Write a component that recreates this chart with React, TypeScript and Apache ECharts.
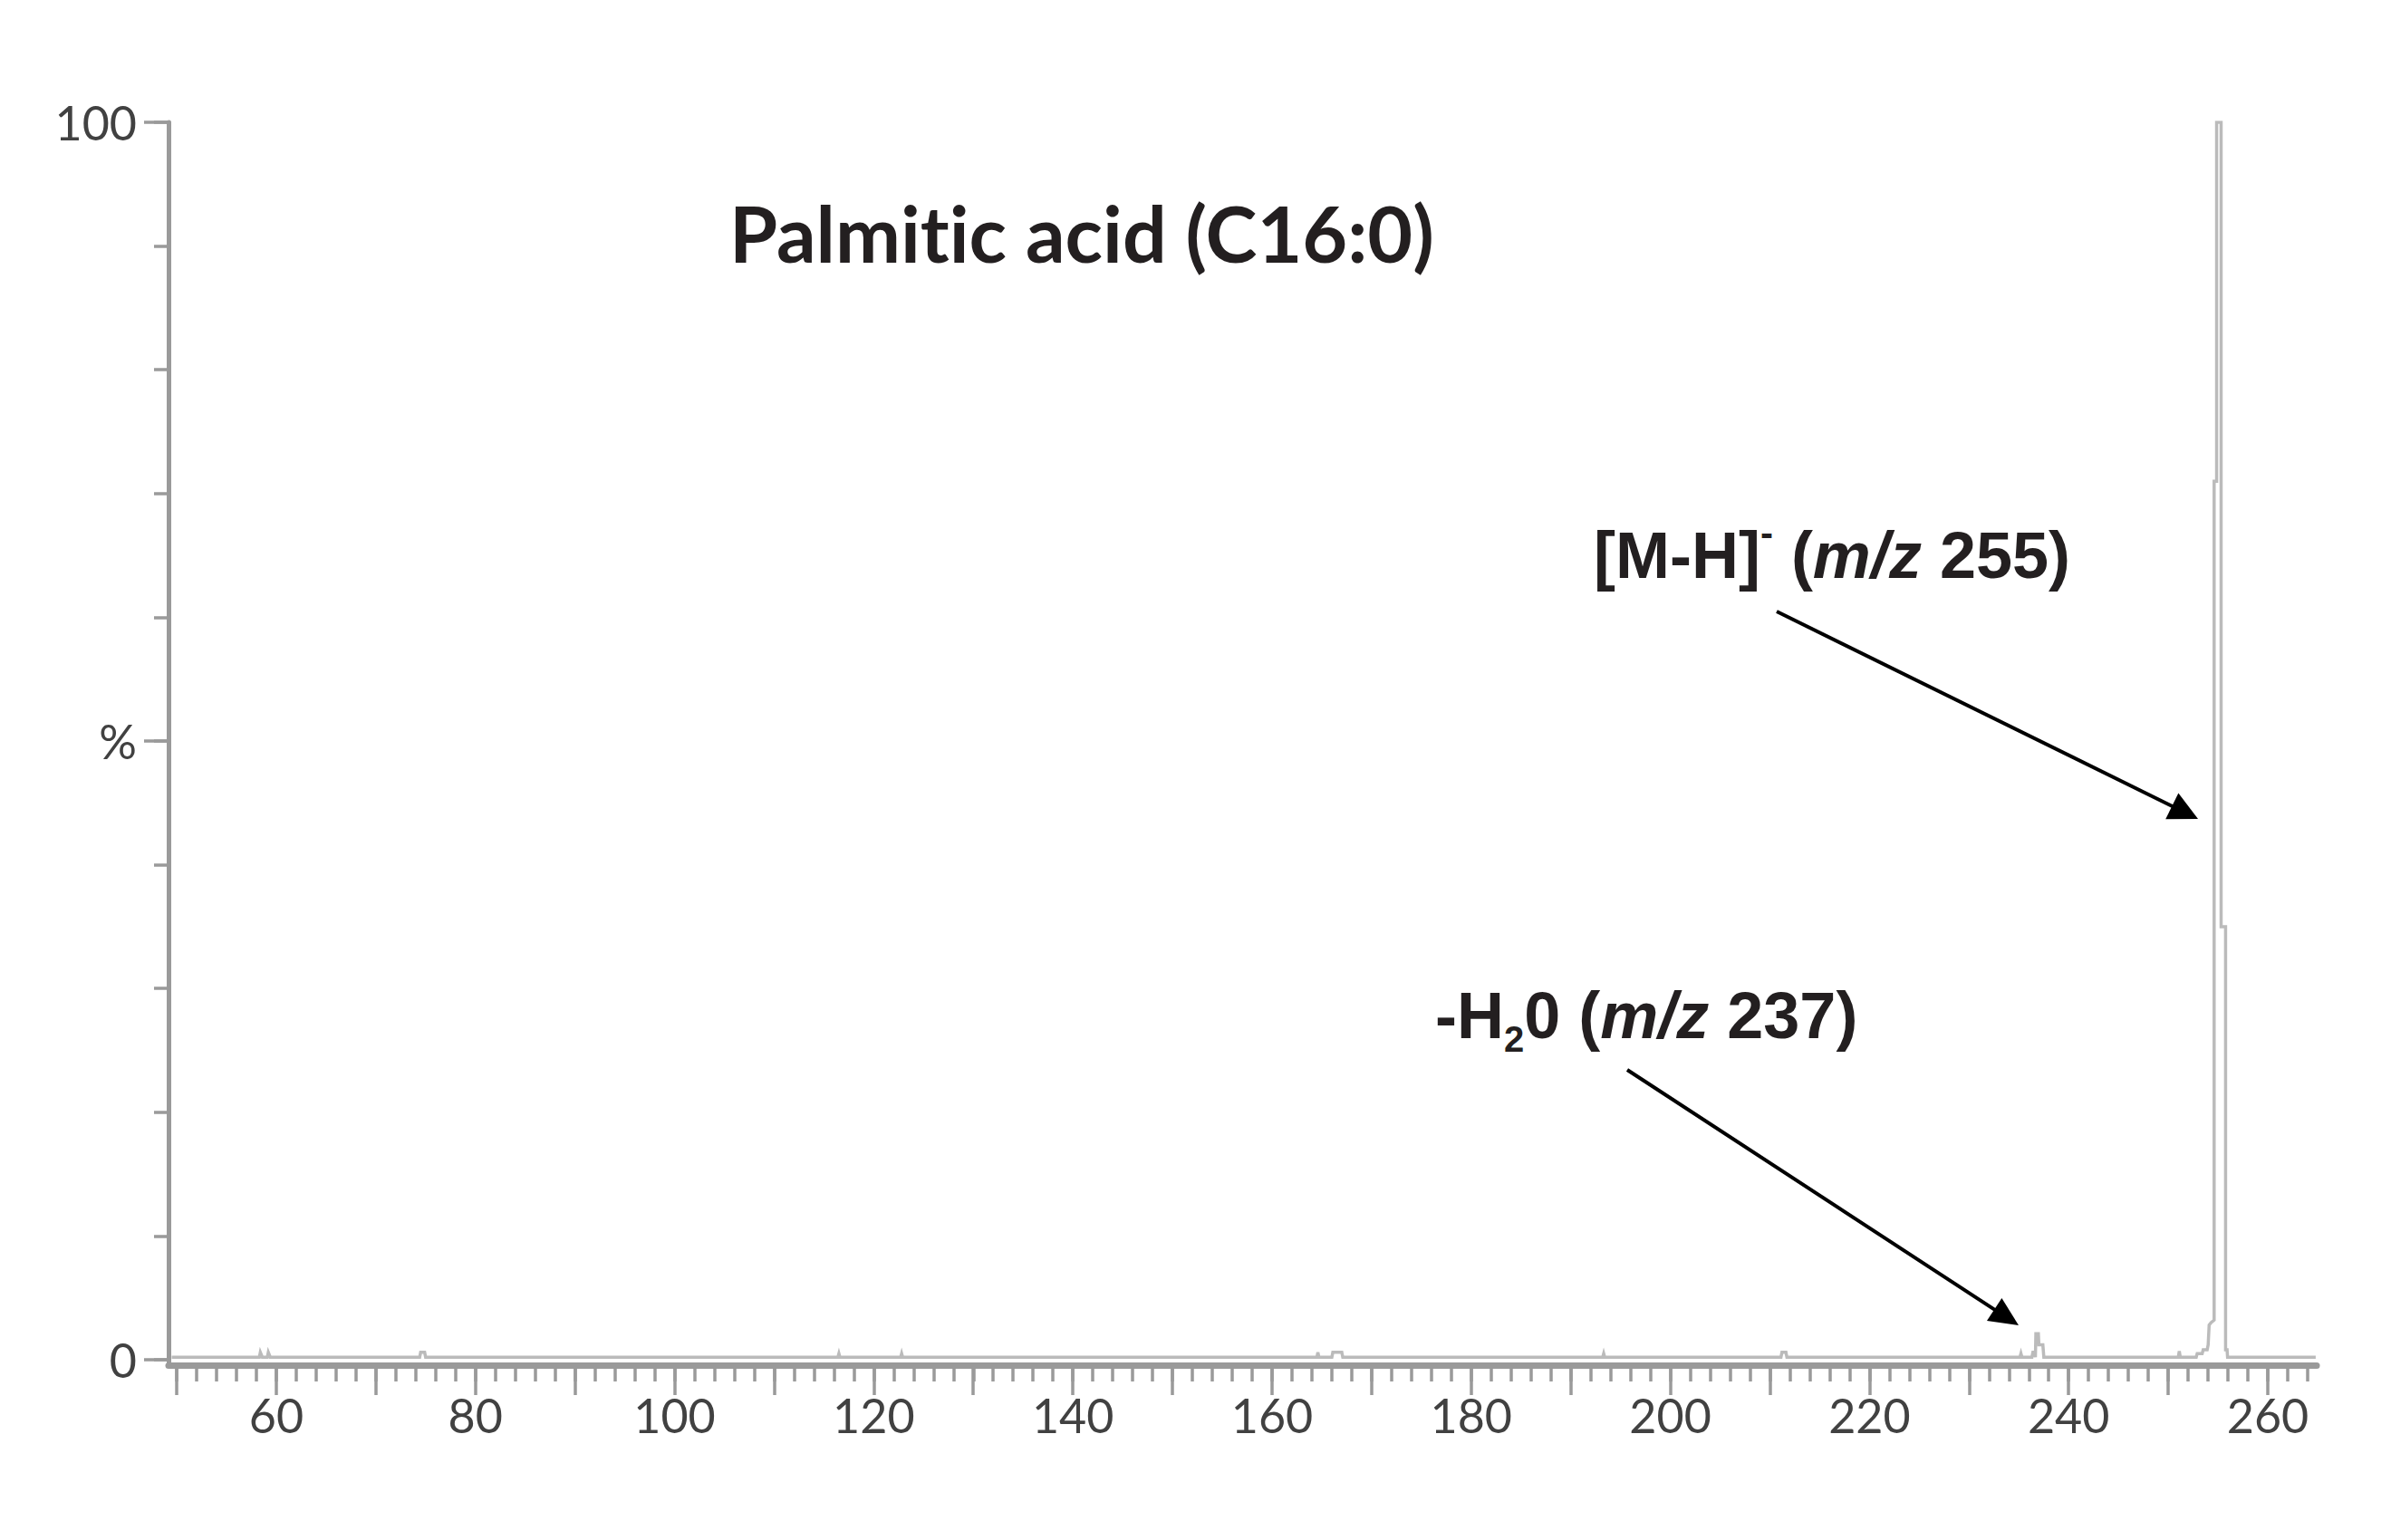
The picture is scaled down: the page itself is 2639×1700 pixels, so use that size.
import React, { useEffect, useRef } from "react";
import * as echarts from "echarts";

// ---------- data ----------
const chartTitle = "Palmitic acid (C16:0)";

// profile spectrum: m/z values and relative intensity (%)
const mzValues = [
  49.5, 58.3, 58.4, 58.6, 59.1, 59.2, 59.4,
  74.4, 74.5, 74.9, 75.0,
  116.4, 116.5, 116.6,
  122.7, 122.8, 122.9,
  164.5, 164.6, 164.7, 166.0, 166.1, 167.0, 167.1,
  193.2, 193.3, 193.4,
  211.1, 211.2, 211.6, 211.7,
  235.1, 235.2, 235.3,
  236.3, 236.4, 236.55, 236.65, 236.7, 236.95, 237.0, 237.4, 237.5,
  251.0, 251.1, 251.2,
  252.8, 252.9, 253.4, 253.5, 253.9, 254.0, 254.1, 254.3, 254.6,
  254.6, 254.85, 254.85, 255.3, 255.3, 255.75, 255.75, 255.9, 255.95,
  264.8,
];
const intensityValues = [
  0.2, 0.2, 0.6, 0.2, 0.2, 0.6, 0.2,
  0.2, 0.6, 0.6, 0.2,
  0.2, 0.5, 0.2,
  0.2, 0.5, 0.2,
  0.2, 0.6, 0.2, 0.2, 0.6, 0.6, 0.2,
  0.2, 0.5, 0.2,
  0.2, 0.6, 0.6, 0.2,
  0.2, 0.5, 0.2,
  0.2, 0.6, 0.6, 0.2, 2.1, 2.1, 1.2, 1.2, 0.2,
  0.2, 0.7, 0.2,
  0.2, 0.5, 0.5, 0.8, 0.8, 1.2, 2.8, 3.0, 3.2,
  71, 71, 100, 100, 35, 35, 0.8, 0.8, 0.2,
  0.2,
];

const xExtent = [49.18, 264.9];
const yExtent = [-0.44, 100];
const xMinorRange = [50, 264];
const xMajorRange = [50, 260];
const xLabelValues = [60, 80, 100, 120, 140, 160, 180, 200, 220, 240, 260];
const yLabelValues = [0, 50, 100];
const yLabelTexts = ["0", "%", "100"];

const peakLabels = [
  "{n|[M-H]}{sup|-}{n| (}{i|m/z}{n| 255)}",
  "{n|-H}{sub|2}{n|0 (}{i|m/z}{n| 237)}",
];

// ---------- styles ----------
const AXIS = "#9a9a9a";
const LABEL = "#414141";
const INK = "#231f20";
const SPEC = "#bbbbbb";

function arrow(sx: number, sy: number, tx: number, ty: number, len: number, half: number) {
  const dx = tx - sx;
  const dy = ty - sy;
  const d = Math.sqrt(dx * dx + dy * dy);
  const ux = dx / d;
  const uy = dy / d;
  const nx = -uy;
  const ny = ux;
  const bx = tx - len * ux;
  const by = ty - len * uy;
  return [
    {
      type: "line",
      shape: { x1: sx, y1: sy, x2: bx + ux * 2, y2: by + uy * 2 },
      style: { stroke: "#000", lineWidth: 4 },
    },
    {
      type: "polygon",
      shape: {
        points: [
          [tx, ty],
          [bx + half * nx, by + half * ny],
          [bx - half * nx, by - half * ny],
        ],
      },
      style: { fill: "#000" },
    },
  ];
}

const richBase = {
  fontFamily: "Liberation Sans",
  fontWeight: "bold",
  fill: INK,
};

export default function App() {
  const ref = useRef<HTMLDivElement>(null);
  useEffect(() => {
    if (!ref.current) return;
    const chart = echarts.init(ref.current, undefined, { renderer: "svg" });
    const data = mzValues.map((m, i) => [m, intensityValues[i]]);
    const hidden = { show: false };
    const option: any = {
      animation: false,
      backgroundColor: "#ffffff",
      grid: [
        { left: 186, top: 135, width: 2371, height: 1372 },
        { left: 186, top: 135, width: 100, height: 1366 },
        { left: 195, top: 1410, width: 2352, height: 100 },
        { left: 195, top: 1410, width: 2308, height: 100 },
      ],
      xAxis: [
        {
          gridIndex: 0,
          type: "value",
          min: xExtent[0],
          max: xExtent[1],
          axisLine: { show: true, onZero: false, lineStyle: { color: AXIS, width: 7 } },
          axisTick: hidden,
          axisLabel: hidden,
          splitLine: hidden,
        },
        { gridIndex: 1, type: "value", show: false, axisLine: { onZero: false } },
        {
          gridIndex: 2,
          type: "value",
          position: "bottom",
          min: xMinorRange[0],
          max: xMinorRange[1],
          interval: 2,
          axisLine: { show: false, onZero: false },
          axisTick: { show: true, length: 15, lineStyle: { color: AXIS, width: 3.5 } },
          axisLabel: hidden,
          splitLine: hidden,
        },
        {
          gridIndex: 3,
          type: "value",
          position: "bottom",
          min: xMajorRange[0],
          max: xMajorRange[1],
          interval: 10,
          axisLine: { show: false, onZero: false },
          axisTick: { show: true, length: 30, lineStyle: { color: AXIS, width: 3.5 } },
          axisLabel: {
            show: true,
            margin: 26,
            fontFamily: "Lato",
            fontSize: 52,
            color: LABEL,
            formatter: (v: number) => (xLabelValues.indexOf(v) >= 0 ? String(v) : ""),
          },
          splitLine: hidden,
        },
      ],
      yAxis: [
        {
          gridIndex: 0,
          type: "value",
          position: "left",
          min: yExtent[0],
          max: yExtent[1],
          axisLine: { show: true, onZero: false, lineStyle: { color: AXIS, width: 5 } },
          axisTick: hidden,
          axisLabel: hidden,
          splitLine: hidden,
        },
        {
          gridIndex: 1,
          type: "value",
          position: "left",
          min: 0,
          max: 100,
          interval: 10,
          axisLine: { show: false, onZero: false },
          axisTick: { show: true, length: 16, lineStyle: { color: AXIS, width: 3.5 } },
          axisLabel: hidden,
          splitLine: hidden,
        },
        {
          gridIndex: 1,
          type: "value",
          position: "left",
          offset: 0,
          min: 0,
          max: 100,
          interval: 50,
          axisLine: { show: false, onZero: false },
          axisTick: { show: true, length: 27, lineStyle: { color: AXIS, width: 3.5 } },
          axisLabel: {
            show: true,
            margin: 35,
            fontFamily: "Lato",
            fontSize: 52,
            color: LABEL,
            formatter: (v: number) => {
              const k = yLabelValues.indexOf(v);
              return k >= 0 ? yLabelTexts[k] : "";
            },
          },
          splitLine: hidden,
        },
        { gridIndex: 2, type: "value", show: false, axisLine: { onZero: false } },
        { gridIndex: 3, type: "value", show: false, axisLine: { onZero: false } },
      ],
      series: [
        {
          type: "line",
          xAxisIndex: 0,
          yAxisIndex: 0,
          data,
          showSymbol: false,
          symbol: "none",
          silent: true,
          lineStyle: { color: SPEC, width: 3.5, join: "miter" },
          z: 3,
        },
      ],
      graphic: [
        {
          type: "text",
          x: 805,
          y: 256,
          style: {
            text: chartTitle,
            fill: INK,
            fontFamily: "Lato",
            fontWeight: "bold",
            fontSize: 86,
            verticalAlign: "middle",
          },
        },
        {
          type: "text",
          x: 1759,
          y: 613,
          style: {
            text: peakLabels[0],
            verticalAlign: "middle",
            rich: {
              n: { ...richBase, fontSize: 72, lineHeight: 92 },
              sup: { ...richBase, fontSize: 42, lineHeight: 62, verticalAlign: "top" },
              i: { ...richBase, fontSize: 72, lineHeight: 92, fontStyle: "italic" },
            },
          },
        },
        {
          type: "text",
          x: 1584,
          y: 1121,
          style: {
            text: peakLabels[1],
            verticalAlign: "middle",
            rich: {
              n: { ...richBase, fontSize: 72, lineHeight: 92 },
              sub: { ...richBase, fontSize: 40, lineHeight: 22, verticalAlign: "bottom" },
              i: { ...richBase, fontSize: 72, lineHeight: 92, fontStyle: "italic" },
            },
          },
        },
        ...arrow(1961, 675, 2426, 904, 32, 16),
        ...arrow(1796, 1181, 2228, 1463, 32, 15),
      ],
    };
    chart.setOption(option);
    return () => chart.dispose();
  }, []);
  return (
    <>
      <style>{"#spectrum text { font-variant-ligatures: none; font-feature-settings: 'liga' 0; }"}</style>
      <div
        id="spectrum"
        ref={ref}
        style={{ position: "absolute", left: 0, top: 0, width: 2639, height: 1700, background: "#fff" }}
      />
    </>
  );
}
